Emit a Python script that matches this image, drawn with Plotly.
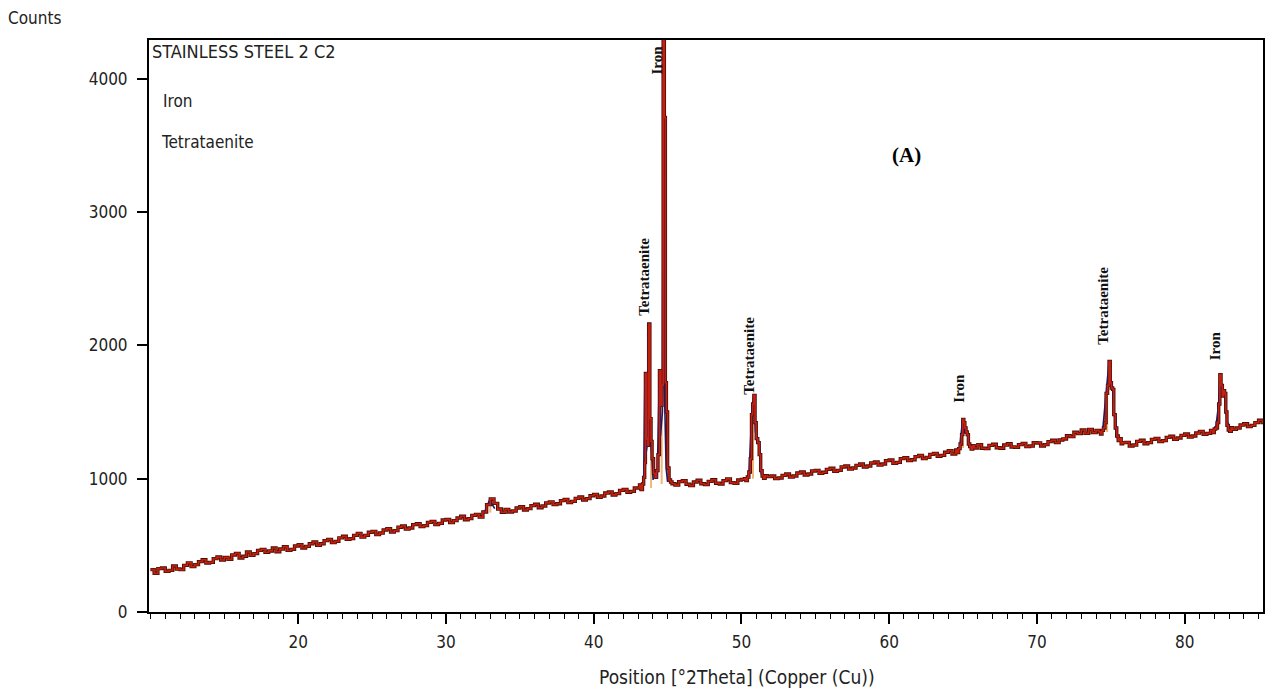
import numpy as np
import plotly.graph_objects as go

# ---------------- data ----------------
bg_start = 10.0
bg_step = 0.25
bg_counts = [
    318, 290, 325, 330, 305, 312, 345, 322, 318, 350, 368, 340, 355, 378, 392, 368, 372, 400, 412, 390,
    410, 395, 428, 440, 405, 418, 450, 425, 438, 462, 470, 448, 458, 480, 452, 472, 490, 462, 470, 495,
    505, 480, 492, 512, 525, 500, 512, 535, 545, 520, 530, 556, 568, 545, 550, 575, 590, 562, 575, 598,
    605, 580, 592, 615, 625, 600, 610, 636, 645, 622, 630, 655, 662, 640, 648, 672, 680, 655, 665, 690,
    695, 670, 685, 705, 718, 692, 700, 725, 732, 712, 750, 805, 848, 815, 772, 748, 770, 750, 758, 780,
    790, 765, 775, 798, 808, 782, 795, 818, 826, 805, 812, 835, 845, 820, 830, 852, 862, 840, 850, 872,
    882, 860, 870, 892, 900, 878, 888, 912, 920, 898, 905, 930, 938, 915, 925, 945, 955, 932, 940, 960,
    972, 945, 952, 978, 985, 958, 948, 975, 988, 962, 955, 980, 992, 966, 960, 985, 998, 970, 965, 990,
    995, 972, 980, 1002, 1010, 985, 992, 1015, 1020, 1000, 1005, 1025, 1035, 1012, 1020, 1042, 1050, 1028, 1035, 1058,
    1062, 1040, 1048, 1070, 1078, 1055, 1062, 1088, 1095, 1072, 1080, 1100, 1110, 1088, 1095, 1118, 1125, 1102, 1110, 1135,
    1140, 1115, 1122, 1150, 1158, 1135, 1142, 1165, 1175, 1150, 1160, 1182, 1190, 1168, 1175, 1198, 1210, 1185, 1192, 1215,
    1238, 1215, 1222, 1248, 1255, 1228, 1225, 1250, 1258, 1232, 1228, 1252, 1262, 1238, 1235, 1255, 1265, 1240, 1245, 1270,
    1268, 1245, 1255, 1278, 1288, 1270, 1290, 1298, 1322, 1315, 1348, 1338, 1365, 1340, 1370, 1345, 1362, 1340, 1368, 1345,
    1310, 1262, 1268, 1240, 1272, 1245, 1252, 1280, 1288, 1262, 1270, 1295, 1302, 1278, 1285, 1310, 1318, 1295, 1305, 1325,
    1335, 1312, 1320, 1342, 1355, 1332, 1340, 1362, 1375, 1350, 1362, 1385, 1392, 1370, 1380, 1402, 1412, 1390, 1400, 1420,
    1438, 1420, 1445,
]

# measured peak regions (2Theta, counts)
peak1_pos = [43.0, 43.1, 43.2, 43.3, 43.38, 43.45, 43.5, 43.58, 43.65, 43.72, 43.8, 43.88, 43.95, 44.05,
             44.15, 44.25, 44.35, 44.45, 44.55, 44.62, 44.7, 44.78, 44.85, 44.92, 45.0, 45.1, 45.2, 45.3]
peak1_cnt = [930, 952, 918, 960, 1010, 1120, 1790, 1300, 1250, 2160, 1450, 1280, 1150, 1040,
             1010, 1060, 1180, 1810, 1550, 1700, 4420, 3710, 1720, 1500, 1080, 990, 975, 962]
peak2_pos = [50.2, 50.3, 50.4, 50.5, 50.6, 50.68, 50.76, 50.84, 50.92, 51.0, 51.1, 51.2, 51.3, 51.4, 51.5, 51.6]
peak2_cnt = [1000, 985, 1012, 1050, 1150, 1480, 1560, 1625, 1420, 1300, 1270, 1180, 1060, 1020, 1002, 1022]
peak3_pos = [64.5, 64.6, 64.7, 64.8, 64.9, 64.98, 65.05, 65.12, 65.2, 65.28, 65.36, 65.45, 65.55, 65.65, 65.75]
peak3_cnt = [1215, 1195, 1225, 1260, 1330, 1445, 1420, 1380, 1350, 1330, 1260, 1240, 1222, 1248, 1230]
peak4_pos = [74.2, 74.3, 74.4, 74.5, 74.6, 74.68, 74.78, 74.88, 74.96, 75.04, 75.12, 75.2, 75.3, 75.4, 75.5, 75.6, 75.7, 75.8]
peak4_cnt = [1352, 1335, 1362, 1380, 1420, 1640, 1700, 1880, 1720, 1680, 1670, 1480, 1380, 1320, 1285, 1300, 1262, 1270]
peak5_pos = [81.8, 81.9, 82.0, 82.1, 82.2, 82.3, 82.38, 82.46, 82.55, 82.63, 82.7, 82.78, 82.86, 82.95, 83.05, 83.15]
peak5_cnt = [1362, 1345, 1372, 1380, 1420, 1560, 1780, 1700, 1620, 1660, 1640, 1500, 1400, 1365, 1355, 1382]

# calculated (fitted) profile segments
calc_segments = [
    ([32.6, 32.95, 33.3], [745, 840, 775]),
    ([43.38, 43.47, 43.53, 43.66, 43.72, 43.79, 43.92, 44.02], [960, 1790, 1180, 1280, 2160, 1380, 1200, 990]),
    ([44.30, 44.45, 44.52, 44.65, 44.71, 44.78, 44.9, 45.0], [1000, 1815, 1320, 1500, 4420, 1700, 1080, 975]),
    ([50.5, 50.7, 50.84, 50.95, 51.2, 51.35], [1010, 1490, 1625, 1350, 1270, 1030]),
    ([64.75, 64.98, 65.1, 65.27, 65.45], [1220, 1448, 1360, 1340, 1235]),
    ([74.45, 74.66, 74.88, 75.0, 75.12, 75.25, 75.45], [1365, 1636, 1878, 1700, 1670, 1470, 1300]),
    ([82.1, 82.3, 82.39, 82.5, 82.7, 82.85, 83.0], [1380, 1560, 1778, 1650, 1650, 1450, 1370]),
]

# reference stick lines (position, base, top)
stick_pos = [33.0, 43.88, 44.6, 50.78, 65.0, 74.75, 82.3]
stick_base = [745, 930, 960, 1000, 1230, 1350, 1370]
stick_top = [800, 1260, 1560, 1420, 1390, 1620, 1560]

# phase labels
label_text = ["Tetrataenite", "Iron", "Tetrataenite", "Iron", "Tetrataenite", "Iron"]
label_x = [43.44, 44.25, 50.5, 64.7, 74.5, 82.07]
label_y = [2510, 4140, 1920, 1680, 2300, 1995]

x_ticks = [20, 30, 40, 50, 60, 70, 80]
y_ticks = [0, 1000, 2000, 3000, 4000]

# ---------------- assemble measured pattern ----------------
bg_pos = bg_start + bg_step * np.arange(len(bg_counts))
bg_cnt = np.array(bg_counts, dtype=float)
peaks = [(peak1_pos, peak1_cnt), (peak2_pos, peak2_cnt), (peak3_pos, peak3_cnt),
         (peak4_pos, peak4_cnt), (peak5_pos, peak5_cnt)]
keep = np.ones(len(bg_pos), dtype=bool)
for p, c in peaks:
    keep &= ~((bg_pos >= min(p)) & (bg_pos <= max(p)))
all_pos = np.concatenate([bg_pos[keep]] + [np.array(p) for p, c in peaks])
all_cnt = np.concatenate([bg_cnt[keep]] + [np.array(c, dtype=float) for p, c in peaks])
order = np.argsort(all_pos)
meas_x = all_pos[order]
meas_y = all_cnt[order]

calc_x, calc_y = [], []
for p, c in calc_segments:
    calc_x += list(p) + [None]
    calc_y += list(c) + [None]

st_x, st_y = [], []
for p, b, t in zip(stick_pos, stick_base, stick_top):
    st_x += [p, p, None]
    st_y += [b, t, None]

fig = go.Figure()
fig.add_trace(go.Scatter(x=st_x, y=st_y, mode="lines",
                         line=dict(color="#f0b878", width=2), hoverinfo="skip", showlegend=False))
fig.add_trace(go.Scatter(x=meas_x, y=meas_y, mode="lines", line_shape="hv",
                         line=dict(color="#4a0c06", width=3.4), showlegend=False))
fig.add_trace(go.Scatter(x=calc_x, y=calc_y, mode="lines",
                         line=dict(color="#23185e", width=1.6), showlegend=False))
fig.add_trace(go.Scatter(x=meas_x, y=meas_y, mode="lines", line_shape="hv",
                         line=dict(color="#c4200c", width=1.7), showlegend=False))

for t, x, y in zip(label_text, label_x, label_y):
    fig.add_annotation(x=x, y=y, xref="x", yref="y", text="<b>" + t + "</b>", textangle=-90,
                       showarrow=False, xanchor="center", yanchor="middle",
                       font=dict(family="Liberation Serif", size=15, color="#111111"))

fig.add_annotation(x=61.2, y=3430, xref="x", yref="y", text="<b>(A)</b>", showarrow=False,
                   font=dict(family="Liberation Serif", size=21, color="black"))

side_font = dict(family="DejaVu Sans Condensed", size=17, color="#222222")
fig.add_annotation(x=150, y=52, xref="paper", yref="paper", text="STAINLESS STEEL 2 C2",
                   showarrow=False, xanchor="left", yanchor="middle",
                   font=dict(family="DejaVu Sans Condensed", size=18, color="#222222"))
fig.add_annotation(x=161, y=101, xref="paper", yref="paper", text="Iron",
                   showarrow=False, xanchor="left", yanchor="middle", font=side_font)
fig.add_annotation(x=159, y=142, xref="paper", yref="paper", text="Tetrataenite",
                   showarrow=False, xanchor="left", yanchor="middle", font=side_font)
fig.add_annotation(x=6, y=18, xref="paper", yref="paper", text="Counts",
                   showarrow=False, xanchor="left", yanchor="middle", font=side_font)
fig.add_annotation(x=738, y=677, xref="paper", yref="paper", text="Position [°2Theta] (Copper (Cu))",
                   showarrow=False, xanchor="center", yanchor="middle",
                   font=dict(family="DejaVu Sans Condensed", size=19, color="#222222"))

# convert pixel positions of paper annotations to paper fractions
W, H = 1267, 688
L, R, T, B = 149, 2, 40, 76
pw, ph = W - L - R, H - T - B
for a in fig.layout.annotations:
    if a.xref == "paper":
        a.x = (a.x - L) / pw
        a.y = 1 - (a.y - T) / ph

tick_font = dict(family="DejaVu Sans Condensed", size=17, color="#222222")
fig.update_layout(
    width=W, height=H,
    margin=dict(l=L, r=R, t=T, b=B),
    plot_bgcolor="white", paper_bgcolor="white",
    font=dict(family="DejaVu Sans Condensed", size=17, color="#222222"),
    xaxis=dict(range=[9.9, 85.3], tickvals=x_ticks, ticks="outside", ticklen=10, tickwidth=1.5,
               tickcolor="black", showline=True, linecolor="black", linewidth=2, mirror=True,
               showgrid=False, zeroline=False, tickfont=tick_font, ticklabelstandoff=4,
               minor=dict(dtick=1, tick0=0, ticks="outside", ticklen=5, tickcolor="black", tickwidth=1.2)),
    yaxis=dict(range=[0, 4290], tickvals=y_ticks, ticks="outside", ticklen=10, tickwidth=1.5,
               tickcolor="black", showline=True, linecolor="black", linewidth=2, mirror=True,
               showgrid=False, zeroline=False, tickfont=tick_font, ticklabelstandoff=6),
)

fig.write_html("out.html", config={"displayModeBar": False},
               post_script="document.body.style.margin='0';document.body.style.overflow='hidden';")
